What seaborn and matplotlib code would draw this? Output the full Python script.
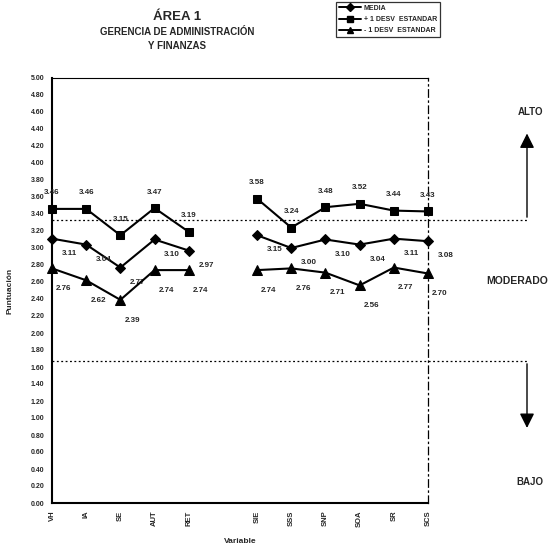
import numpy as np
import pandas as pd
import matplotlib
matplotlib.use('Agg')
import matplotlib.pyplot as plt
from matplotlib.lines import Line2D
import seaborn as sns

# Data
variables = ['VH', 'IA', 'SE', 'AUT', 'RET', 'SIE', 'SSS', 'SNP', 'SOA', 'SR', 'SCS']
x_pos = [0, 1, 2, 3, 4, 6, 7, 8, 9, 10, 11]
grupo = ['A', 'A', 'A', 'A', 'A', 'B', 'B', 'B', 'B', 'B', 'B']
media = [3.11, 3.04, 2.77, 3.10, 2.97, 3.15, 3.00, 3.10, 3.04, 3.11, 3.08]
mas_desv = [3.46, 3.46, 3.15, 3.47, 3.19, 3.58, 3.24, 3.48, 3.52, 3.44, 3.43]
menos_desv = [2.76, 2.62, 2.39, 2.74, 2.74, 2.74, 2.76, 2.71, 2.56, 2.77, 2.70]
limites = [1.67, 3.33]
series_names = ['MEDIA', '+ 1 DESV  ESTANDAR', '- 1 DESV  ESTANDAR']

df = pd.DataFrame({'Variable': variables, 'pos': x_pos, 'grupo': grupo,
                   'MEDIA': media, 'MAS': mas_desv, 'MENOS': menos_desv})

sns.set_style('white')
plt.rcParams['font.family'] = ['Liberation Sans', 'DejaVu Sans']
plt.rcParams['font.weight'] = 'bold'

fig = plt.figure(figsize=(5.56, 5.49), dpi=100)
W, H = 556, 549
ax = fig.add_axes([52 / W, (H - 503) / H, (428 - 52) / W, (503 - 78) / H])

# series: column, marker, marker size, label offset (points)
estilos = [('MAS', 's', 6, (0, 9), 'center', 'bottom'),
           ('MEDIA', 'D', 5.5, (7, -8), 'left', 'top'),
           ('MENOS', '^', 6.5, (3, -12), 'left', 'top')]

for col, mk, ms, off, ha, va in estilos:
    sns.lineplot(data=df, x='pos', y=col, units='grupo', estimator=None,
                 color='black', lw=1.5, marker=mk, markersize=ms,
                 markeredgecolor='black', ax=ax, clip_on=False, zorder=3)
    for xp, v in zip(df['pos'], df[col]):
        ax.annotate(f'{v:.2f}', (xp, v), xytext=off, textcoords='offset points',
                    ha=ha, va=va, fontsize=5.8, fontweight='bold',
                    annotation_clip=False)

ax.set_xlim(0, 11)
ax.set_ylim(0, 5)
ax.set_yticks(np.arange(0, 5.01, 0.2))
ax.set_yticklabels([f'{t:.2f}' for t in np.arange(0, 5.01, 0.2)], fontsize=5, fontweight='bold')
ax.set_xticks(x_pos)
ax.set_xticklabels(variables, rotation=90, fontsize=5.5, fontweight='bold')
ax.tick_params(direction='inout', length=5, width=0.9, pad=3)
ax.set_xlabel('Variable', fontsize=6, fontweight='bold', labelpad=8)
ax.set_ylabel('Puntuación', fontsize=6, fontweight='bold', labelpad=12)

for s in ['left', 'bottom']:
    ax.spines[s].set_linewidth(1.5)
    ax.spines[s].set_color('black')
ax.spines['top'].set_linewidth(0.8)
ax.spines['top'].set_color('black')
ax.spines['right'].set_linewidth(0.9)
ax.spines['right'].set_color('black')
ax.spines['right'].set_linestyle((0, (6, 3, 1, 3)))

# level limits and arrows
x_flecha = 11 + (527 - 428) / ((428 - 52) / 11)
for lim in limites:
    ax.plot([0, x_flecha], [lim, lim], color='black', lw=0.9, ls=(0, (1.5, 2)),
            clip_on=False)
ax.annotate('', xy=(x_flecha, 4.38), xytext=(x_flecha, limites[1]),
            arrowprops=dict(arrowstyle='-|>', color='black', lw=1, mutation_scale=22),
            annotation_clip=False)
ax.annotate('', xy=(x_flecha, 0.85), xytext=(x_flecha, limites[0]),
            arrowprops=dict(arrowstyle='-|>', color='black', lw=1, mutation_scale=22),
            annotation_clip=False)

fig.text(530 / W, 1 - 112 / H, 'ALTO', ha='center', va='center', fontsize=7, fontweight='bold')
fig.text(486 / W, 1 - 281 / H, 'MODERADO', ha='left', va='center', fontsize=7.5, fontweight='bold')
fig.text(530 / W, 1 - 482 / H, 'BAJO', ha='center', va='center', fontsize=7, fontweight='bold')

# titles
fig.text(177 / W, 1 - 17 / H, 'ÁREA 1', ha='center', va='center', fontsize=9.5, fontweight='bold')
fig.text(177 / W, 1 - 32 / H, 'GERENCIA DE ADMINISTRACIÓN', ha='center', va='center', fontsize=7, fontweight='bold')
fig.text(177 / W, 1 - 46 / H, 'Y FINANZAS', ha='center', va='center', fontsize=7, fontweight='bold')

# legend
handles = [Line2D([], [], color='black', lw=1.4, marker='D', markersize=4),
           Line2D([], [], color='black', lw=1.4, marker='s', markersize=4),
           Line2D([], [], color='black', lw=1.4, marker='^', markersize=4.5)]
leg = fig.legend(handles, series_names, loc='upper left',
                 bbox_to_anchor=(336 / W, 1 - 2 / H), frameon=True, fancybox=False,
                 edgecolor='black', fontsize=5, numpoints=1, handlelength=3.2,
                 borderpad=0.4, labelspacing=0.6, handletextpad=0.4, borderaxespad=0)
leg.get_frame().set_linewidth(0.9)

fig.savefig('out.png', dpi=100)
